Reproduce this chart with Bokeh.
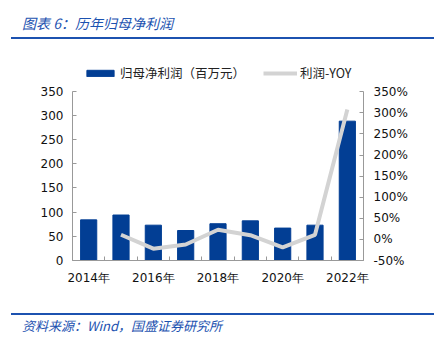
from bokeh.plotting import figure
from bokeh.models import (Range1d, LinearAxis, FixedTicker, Legend, LegendItem,
                          ColumnDataSource, CustomJSTickFormatter, Div)
from bokeh.layouts import column
from bokeh.embed import file_html
from bokeh.resources import INLINE

years = [2014, 2015, 2016, 2017, 2018, 2019, 2020, 2021, 2022]
year_labels = ["2014年", "", "2016年", "", "2018年", "", "2020年", "", "2022年"]
profit = [84, 94, 73, 62, 76, 82, 67, 73, 288]  # 归母净利润（百万元）
yoy_years = [2015, 2016, 2017, 2018, 2019, 2020, 2021, 2022]
yoy = [11, -22, -12, 23, 10, -19, 11, 308]  # 利润-YOY (%)
left_ticks = [0, 50, 100, 150, 200, 250, 300, 350]
right_ticks = [-50, 0, 50, 100, 150, 200, 250, 300, 350]
series_names = ["归母净利润（百万元）", "利润-YOY"]
title_text = "图表 6：历年归母净利润"
source_text = "资料来源：Wind，国盛证券研究所"

BAR = "#023e94"
GRAY = "#d3d3d3"
BLUE = "#1c52b0"
TICK_FONT = "DejaVu Sans"
CJK = "Noto Sans CJK SC"

W = 441
TOP_H = 60
FIG_H = 240
BOT_H = 338 - TOP_H - FIG_H

top_div = Div(width=W, height=TOP_H, margin=0, text=(
    f'<div style="position:relative;width:{W}px;height:{TOP_H}px;">'
    f'<div style="position:absolute;left:22px;top:14px;font-family:\'{CJK}\';font-style:italic;'
    f'font-size:14px;line-height:18px;color:{BLUE};white-space:nowrap;">{title_text}</div>'
    f'<div style="position:absolute;left:11px;top:37px;width:423px;height:2px;background:{BLUE};"></div>'
    '</div>'))

bot_div = Div(width=W, height=BOT_H, margin=0, text=(
    f'<div style="position:relative;width:{W}px;height:{BOT_H}px;">'
    f'<div style="position:absolute;left:11px;top:13px;width:423px;height:2px;background:{BLUE};"></div>'
    f'<div style="position:absolute;left:22px;top:17px;font-family:\'{CJK}\';font-style:italic;'
    f'font-size:13px;line-height:18px;color:{BLUE};white-space:nowrap;">{source_text}</div>'
    '</div>'))

p = figure(width=W, height=FIG_H, output_backend="svg", toolbar_location=None,
           x_range=Range1d(2013.5, 2022.5), y_range=Range1d(0, 413.4),
           min_border_left=72, min_border_right=78, min_border_top=0, min_border_bottom=40,
           margin=0)
p.outline_line_color = None
p.grid.visible = False
p.background_fill_color = "white"
p.border_fill_color = "white"

p.extra_y_ranges = {"yoy": Range1d(-50, 424.1)}

src = ColumnDataSource(dict(x=years, top=profit))
bars = p.vbar(x="x", top="top", width=0.5, color=BAR, source=src)
lsrc = ColumnDataSource(dict(x=yoy_years, y=yoy))
line = p.line(x="x", y="y", y_range_name="yoy", line_color=GRAY, line_width=4, source=lsrc)

# x axis
xa = p.xaxis[0]
xa.ticker = FixedTicker(ticks=years, minor_ticks=[y + 0.5 for y in [2013] + years])
xa.major_label_overrides = {y: l for y, l in zip(years, year_labels)}
xa.major_tick_in = 0
xa.major_tick_out = 0
xa.minor_tick_in = 4
xa.minor_tick_out = 0
xa.minor_tick_line_color = "#999999"
xa.axis_line_color = "#999999"
xa.major_label_text_font = TICK_FONT
xa.major_label_text_font_size = "12px"
xa.major_label_text_color = "#111111"
xa.major_label_standoff = 10

ya = p.yaxis[0]
ya.ticker = FixedTicker(ticks=left_ticks)
ya.bounds = (0, 350)
ya.major_tick_in = 4
ya.major_tick_out = 0
ya.minor_tick_line_color = None
ya.axis_line_color = "#999999"
ya.major_tick_line_color = "#999999"
ya.major_label_text_font = TICK_FONT
ya.major_label_text_font_size = "12px"
ya.major_label_text_color = "#111111"
ya.major_label_standoff = 9

ra = LinearAxis(y_range_name="yoy", ticker=FixedTicker(ticks=right_ticks), bounds=(-50, 350),
                formatter=CustomJSTickFormatter(code="return tick + '%';"))
ra.major_tick_in = 4
ra.major_tick_out = 0
ra.minor_tick_line_color = None
ra.axis_line_color = "#999999"
ra.major_tick_line_color = "#999999"
ra.major_label_text_font = TICK_FONT
ra.major_label_text_font_size = "12px"
ra.major_label_text_color = "#111111"
ra.major_label_standoff = 10
p.add_layout(ra, "right")

legend = Legend(items=[LegendItem(label=series_names[0], renderers=[bars]),
                       LegendItem(label=series_names[1], renderers=[line])],
                orientation="horizontal", location=(11, 178),
                label_text_font=CJK, label_text_font_size="12.5px",
                label_text_color="#222222", glyph_width=34, glyph_height=8,
                label_standoff=3, spacing=18, padding=0, margin=0,
                border_line_color=None, background_fill_alpha=0)
p.add_layout(legend, "center")

layout = column(top_div, p, bot_div, spacing=0, margin=0)
open("out.html", "w").write(file_html(layout, INLINE))
